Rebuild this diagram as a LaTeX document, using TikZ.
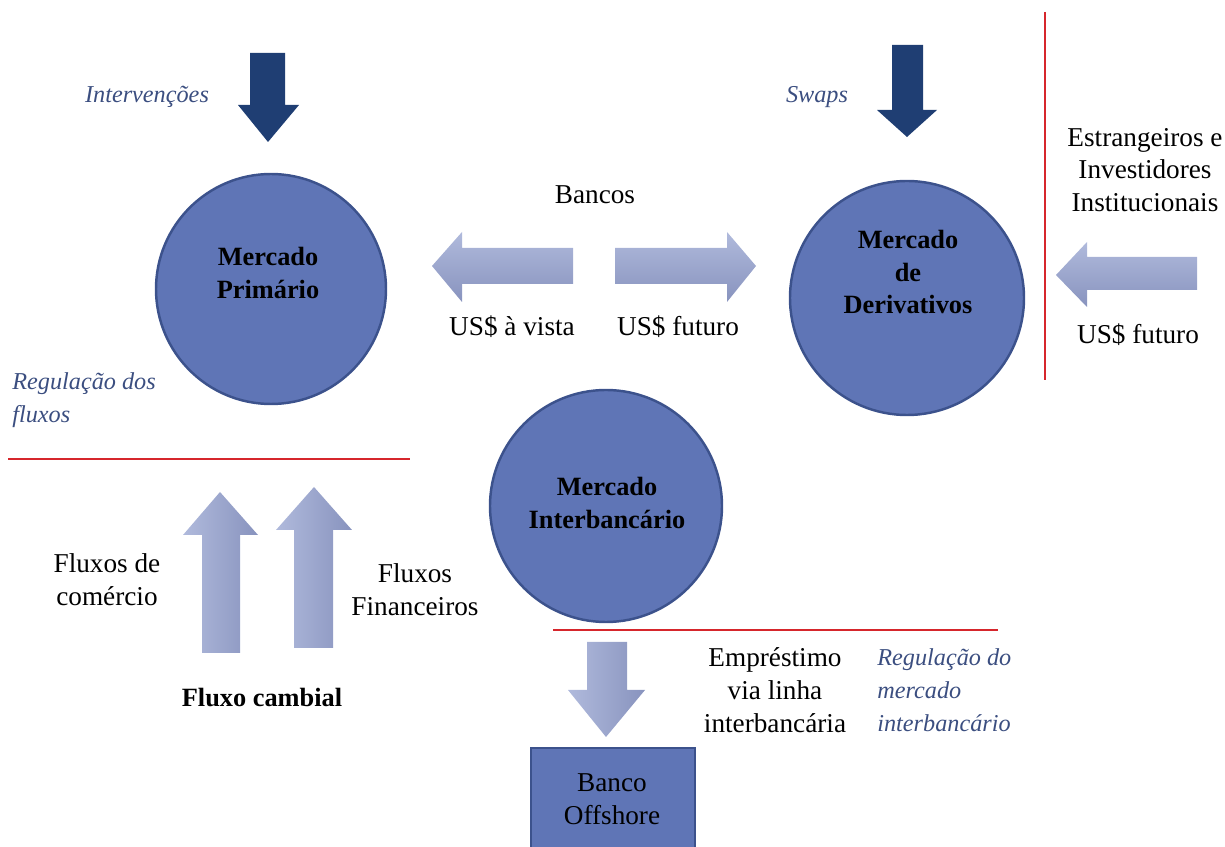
\documentclass[tikz,border=0pt]{standalone}
\usepackage{fontspec}
\setmainfont{Liberation Serif}
\usetikzlibrary{shapes.geometric}
\definecolor{circfill}{RGB}{95,117,182}
\definecolor{circline}{RGB}{60,82,140}
\definecolor{darkarrow}{RGB}{31,62,115}
\definecolor{labelblue}{RGB}{59,78,128}
\definecolor{redline}{RGB}{214,38,44}
\definecolor{arrlight}{RGB}{176,186,220}
\definecolor{arrdark}{RGB}{136,147,190}
\newlength{\pxu}\setlength{\pxu}{0.02cm}
\tikzset{
  every node/.style={font=\fontsize{15.5}{18.7}\selectfont, align=center, inner sep=0pt},
  market/.style={circle, fill=circfill, draw=circline, line width=1.4pt, minimum size=#1},
  boldtxt/.style={font=\fontsize{15}{18.7}\selectfont\bfseries},
  bankbox/.style={rectangle, fill=circfill, draw=circline, line width=1.4pt, minimum width=164\pxu, minimum height=110\pxu},
  darkarr/.style={fill=darkarrow},
  fadearrh/.style={top color=arrlight, bottom color=arrdark},
  fadearrv/.style={left color=arrlight, right color=arrdark},
  regline/.style={draw=redline, line width=0.9pt},
  reglabel/.style={font=\fontsize{13.8}{18.7}\selectfont\itshape, text=labelblue, align=left},
}
\begin{document}
\begin{tikzpicture}[x=0.02cm, y=-0.02cm]
\useasboundingbox (0,0) rectangle (1225,847);
% circles
\node[market=230\pxu] (prim) at (271,289) {};
\node[boldtxt] (primtxt) at (268,273) {Mercado\\Primário};
\node[market=234\pxu] (deriv) at (907,298) {};
\node[boldtxt] (derivtxt) at (908,272) {Mercado\\de\\Derivativos};
\node[market=232\pxu] (inter) at (606,506) {};
\node[boldtxt] (intertxt) at (607,503) {Mercado\\Interbancário};
% bank box
\node[bankbox, anchor=north west] (bank) at (530,747) {};
\node (banktxt) at (612,799) {Banco\\Offshore};
% dark arrows
\path[darkarr] (250,53) -- (285,53) -- (285,105) -- (299,105) -- (268,142) -- (238,105) -- (250,105) -- cycle;
\path[darkarr] (892,45) -- (923,45) -- (923,110) -- (937,110) -- (907,137) -- (877,110) -- (892,110) -- cycle;
\node[reglabel] (interv) at (147,97) {Intervenções};
\node[reglabel] (swaps) at (817,97) {Swaps};
% horizontal arrows
\node (bancos) at (595,195) {Bancos};
\path[fadearrh] (573,248) -- (462,248) -- (462,232) -- (432,266) -- (462,302) -- (462,284) -- (573,284) -- cycle;
\path[fadearrh] (615,248) -- (727,248) -- (727,232) -- (756,266) -- (727,302) -- (727,284) -- (615,284) -- cycle;
\node (vista) at (512,327) {US\$ à vista};
\node (futuro) at (678,327) {US\$ futuro};
% right side
\draw[regline] (1045,12) -- (1045,380);
\node (estr) at (1145,170) {Estrangeiros e\\Investidores\\Institucionais};
\path[fadearrh] (1197,257) -- (1087,257) -- (1087,242) -- (1056,275) -- (1087,307) -- (1087,290) -- (1197,290) -- cycle;
\node (futuro2) at (1138,335) {US\$ futuro};
% left regulation
\node[reglabel, anchor=west] (regflux) at (12,400) {Regulação dos\\fluxos};
\draw[regline] (8,459) -- (410,459);
% up arrows
\path[fadearrv] (202,653) -- (202,535) -- (183,535) -- (220,492) -- (258,535) -- (240,535) -- (240,653) -- cycle;
\path[fadearrv] (294,648) -- (294,530) -- (276,530) -- (314,487) -- (352,530) -- (333,530) -- (333,648) -- cycle;
\node (comercio) at (107,580) {Fluxos de\\comércio};
\node (financ) at (415,590) {Fluxos\\Financeiros};
\node[boldtxt] (cambial) at (262,698) {Fluxo cambial};
% interbank regulation
\draw[regline] (553,630) -- (998,630);
\path[fadearrv] (587,642) -- (627,642) -- (627,690) -- (645,690) -- (606,737) -- (568,690) -- (587,690) -- cycle;
\node (empr) at (775,690) {Empréstimo\\via linha\\interbancária};
\node[reglabel, anchor=west] (regint) at (877,690) {Regulação do\\mercado\\interbancário};
\end{tikzpicture}
\end{document}
